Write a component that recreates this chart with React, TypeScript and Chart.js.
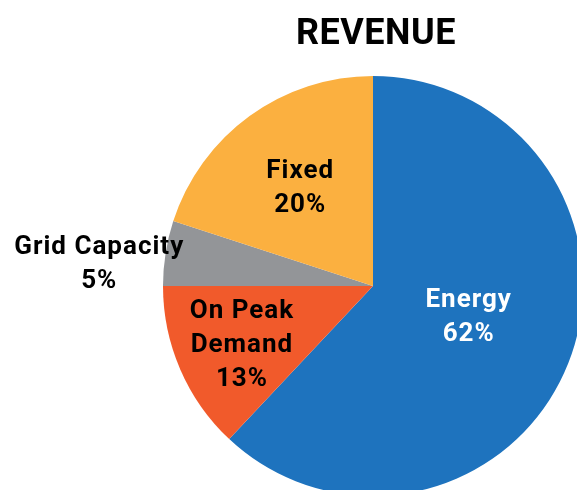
import React, { useEffect, useRef } from "react";
import { Chart, registerables } from "chart.js";

Chart.register(...registerables);

const TITLE = "REVENUE";
const categories = ["Energy", "On Peak Demand", "Grid Capacity", "Fixed"];
const labelLines = [["Energy"], ["On Peak", "Demand"], ["Grid Capacity"], ["Fixed"]];
const values = [62, 13, 5, 20];
const colors = ["#1e73be", "#f15a2b", "#939598", "#fbb040"];
const textColors = ["#ffffff", "#000000", "#000000", "#000000"];
// label placement: fraction of radius along the slice's mid-angle, plus small y tweak
const labelRadius = [0.49, 0.68, 1.32, 0.59];
const labelDy = [-9, 0, 19, 0];

const FONT = "Roboto, 'Noto Sans', sans-serif";

const labelPlugin = {
  id: "sliceLabels",
  afterDraw(chart: any) {
    const ctx = chart.ctx;
    ctx.save();
    // title
    ctx.fillStyle = "#000";
    ctx.font = `bold 36px ${FONT}`;
    ctx.textAlign = "center";
    ctx.textBaseline = "alphabetic";
    try { ctx.letterSpacing = "0.5px"; } catch (e) {}
    ctx.fillText(TITLE, 376, 44);

    const meta = chart.getDatasetMeta(0);
    const total = values.reduce((a, b) => a + b, 0);
    const fs = 26;
    const lh = 34;
    ctx.font = `bold ${fs}px ${FONT}`;
    try { ctx.letterSpacing = "1px"; } catch (e) {}
    meta.data.forEach((arc: any, i: number) => {
      const p = arc.getProps(["x", "y", "startAngle", "endAngle", "outerRadius"], true);
      const mid = (p.startAngle + p.endAngle) / 2;
      const r = p.outerRadius * labelRadius[i];
      const cx = p.x + Math.cos(mid) * r;
      const cy = p.y + Math.sin(mid) * r + labelDy[i];
      const lines = [...labelLines[i], Math.round((values[i] / total) * 100) + "%"];
      const n = lines.length;
      ctx.fillStyle = textColors[i];
      lines.forEach((t, j) => {
        const capMid = cy + (j - (n - 1) / 2) * lh;
        ctx.fillText(t, cx, capMid + fs * 0.355);
      });
    });
    ctx.restore();
  },
};

export default function App() {
  const ref = useRef<HTMLCanvasElement | null>(null);
  useEffect(() => {
    if (!ref.current) return;
    const chart = new Chart(ref.current, {
      type: "pie",
      data: {
        labels: categories,
        datasets: [
          {
            data: values,
            backgroundColor: colors,
            borderWidth: 0,
          },
        ],
      },
      options: {
        responsive: false,
        animation: false,
        layout: { padding: { left: 163, top: 76, right: 17, bottom: 24 } },
        plugins: {
          legend: { display: false },
          tooltip: { enabled: false },
          title: { display: false },
        },
      },
      plugins: [labelPlugin],
    });
    return () => chart.destroy();
  }, []);
  return (
    <div
      style={{
        position: "fixed",
        left: 0,
        top: 0,
        width: 577,
        height: 490,
        overflow: "hidden",
        background: "#fff",
      }}
    >
      <canvas ref={ref} width={600} height={520} style={{ width: 600, height: 520, display: "block" }} />
    </div>
  );
}
